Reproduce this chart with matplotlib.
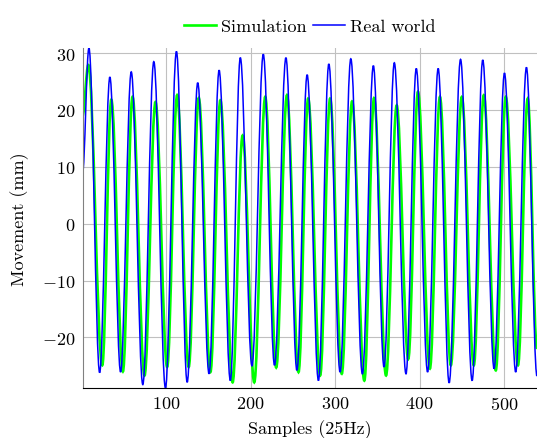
import matplotlib
matplotlib.use("Agg")
import matplotlib.pyplot as plt
from matplotlib.path import Path
from matplotlib.patches import PathPatch

plt.rcParams["font.family"] = "serif"
plt.rcParams["font.serif"] = ["cmr10"]
plt.rcParams["mathtext.fontset"] = "cm"
plt.rcParams["axes.formatter.use_mathtext"] = True

# turning points (sample index, mm)
sim_x = [1, 7.9, 24.4, 35.1, 48.8, 60.2, 74.4, 87.4, 101.2, 113.0, 126.7, 138.6, 152.4,
         164.2, 178.7, 190.5, 204.3, 217.3, 230.3, 243.0, 256.7, 268.1, 282.3, 294.1,
         307.9, 320.1, 334.6, 346.1, 360.3, 372.9, 386.6, 398.1, 412.2, 424.1, 437.0,
         450.0, 464.2, 476.0, 490.2, 502.0, 516.5, 528.0, 539]
sim_y = [19.0, 27.9, -24.9, 21.8, -26.0, 22.3, -26.7, 21.4, -25.2, 22.6, -25.2, 22.1, -26.1,
         21.7, -27.9, 15.5, -27.9, 22.3, -25.3, 22.6, -26.1, 22.0, -26.7, 22.0,
         -26.4, 21.5, -27.6, 22.1, -26.7, 20.8, -23.8, 23.2, -25.5, 22.3, -24.9,
         22.3, -24.9, 22.6, -25.8, 22.3, -24.9, 22.0, -22.0]

real_x = [1, 8.6, 21.3, 33.4, 46.1, 58.7, 72.4, 85.4, 99.2, 112.2, 124.9, 137.4, 150.8,
          162.7, 176.0, 187.8, 201.6, 215.0, 228.3, 241.8, 254.8, 266.9, 280.3, 292.6,
          305.9, 318.6, 332.3, 345.3, 357.9, 370.1, 383.9, 396.1, 409.5, 422.0, 435.0,
          448.5, 462.2, 474.8, 488.2, 500.5, 513.8, 526.5, 539]
real_y = [8.8, 30.9, -26.2, 25.8, -26.1, 26.7, -28.3, 28.5, -28.9, 30.3, -27.9, 24.8, -26.4,
          27.0, -27.6, 29.2, -25.0, 29.8, -24.9, 29.2, -25.8, 26.2, -27.6, 28.1,
          -26.1, 29.0, -26.4, 27.8, -25.2, 28.3, -26.4, 27.3, -26.1, 27.3, -28.0,
          28.9, -27.6, 28.8, -25.5, 26.5, -26.1, 27.5, -26.8]


def smooth_path(xs, ys):
    # cubic segments with flat tangents at each turning point
    verts = [(xs[0], ys[0])]
    codes = [Path.MOVETO]
    for i in range(1, len(xs)):
        d = (xs[i] - xs[i - 1]) * 0.364
        verts += [(xs[i - 1] + d, ys[i - 1]), (xs[i] - d, ys[i]), (xs[i], ys[i])]
        codes += [Path.CURVE4] * 3
    return Path(verts, codes)


fig = plt.figure(figsize=(5.37, 4.39), dpi=100)
ax = fig.add_axes([82.5 / 537, 50 / 439, 454.5 / 537, 340 / 439])

ax.add_patch(PathPatch(smooth_path(sim_x, sim_y), fill=False, edgecolor="#00ff00", lw=1.9))
ax.add_patch(PathPatch(smooth_path(real_x, real_y), fill=False, edgecolor="#0000ff", lw=1.1))
ax.plot([], [], color="#00ff00", lw=1.9, label="Simulation")
ax.plot([], [], color="#0000ff", lw=1.1, label="Real world")

ax.set_xlim(1, 539)
ax.set_ylim(-28.9, 30.9)
ax.set_xticks([100, 200, 300, 400, 500])
ax.set_yticks([-20, -10, 0, 10, 20, 30])
ax.grid(True, color="#c0c0c0", lw=0.8)
ax.set_axisbelow(True)
ax.tick_params(length=0, labelsize=13, pad=5)

ax.spines["top"].set_visible(False)
ax.spines["right"].set_visible(False)
ax.spines["left"].set_color("#808080")
ax.spines["bottom"].set_color("black")

ax.set_xlabel("Samples (25Hz)", fontsize=13)
ax.set_ylabel("Movement (mm)", fontsize=13)
ax.xaxis.set_label_coords(0.5, -0.092)
ax.yaxis.set_label_coords(-0.118, 0.5)

ax.legend(loc="lower center", bbox_to_anchor=(0.5, 1.02), ncol=2, frameon=False,
          fontsize=13, handlelength=1.75, handletextpad=0.3, columnspacing=0.35,
          borderaxespad=0)

fig.savefig("out.png", dpi=100)
